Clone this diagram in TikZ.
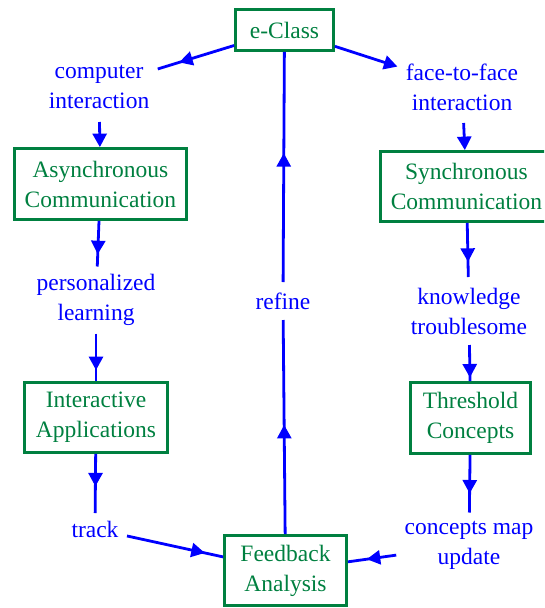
\documentclass[tikz,border=0pt]{standalone}
\usepackage{fontspec}
\setmainfont{Liberation Serif}
\usetikzlibrary{arrows.meta,decorations.markings}
\definecolor{cmgreen}{RGB}{0,128,64}
\definecolor{cmblue}{RGB}{0,0,255}
\begin{document}
\begin{tikzpicture}[x=1pt,y=-1pt,
  every node/.style={font=\fontsize{23.5}{30}\selectfont, align=center},
  cbox/.style={draw=cmgreen, line width=2.8pt, text=cmgreen, inner sep=0pt},
  lbl/.style={text=cmblue, inner xsep=8.5pt, inner ysep=0pt, outer sep=0pt},
  conn/.style={color=cmblue, line width=2.8pt},
  midarr/.style={postaction={decorate, decoration={markings,
      mark=at position #1 with {\arrow{Triangle[length=13.5pt,width=14pt]}}}}},
  endarr/.style={-{Triangle[length=13.5pt,width=14pt]}}]
\useasboundingbox (0,0) rectangle (544,608);
\clip (0,0) rectangle (544,608);
% concept boxes
\node[cbox, minimum width=98pt,  minimum height=41pt] (eclass) at (284.5,30)  {e-Class};
\node[cbox, minimum width=172pt, minimum height=71pt] (async)  at (100.4,184) {Asynchronous\\Communication};
\node[cbox, minimum width=172pt, minimum height=70pt] (sync)   at (466.5,186.5) {Synchronous\\Communication};
\node[cbox, minimum width=143pt, minimum height=70pt] (inter)  at (96,417.5)  {Interactive\\Applications};
\node[cbox, minimum width=120pt, minimum height=71pt] (thresh) at (470.5,418) {Threshold\\Concepts};
\node[cbox, minimum width=122pt, minimum height=70pt] (feed)   at (285.5,570.5) {Feedback\\Analysis};
% linking phrases
\node[lbl, minimum height=70pt] (cint)   at (99,87)    {computer\\interaction};
\node[lbl, minimum height=71pt] (f2f)    at (462,87.5) {face-to-face\\interaction};
\node[lbl, minimum height=67pt] (pers)   at (96,300)   {personalized\\learning};
\node[lbl, minimum height=38pt] (refine) at (283,301)  {refine};
\node[lbl, minimum height=68pt] (know)   at (469,311)  {knowledge\\troublesome};
\node[lbl, minimum height=32pt] (track)  at (95,529)   {track};
\node[lbl, minimum height=65pt] (cmap)   at (469,545) {concepts map\\update};
% connectors
\draw[conn, midarr=0.72] (eclass) -- (cint);
\draw[conn, endarr] (eclass) -- (f2f);
\draw[conn, endarr] (cint) -- (async);
\draw[conn, endarr] (f2f) -- (sync);
\draw[conn, midarr=0.73] (async) -- (pers);
\draw[conn, midarr=0.72] (sync) -- (know);
\draw[conn, midarr=0.77] (pers) -- (inter);
\draw[conn, midarr=0.9] (know) -- (thresh);
\draw[conn, midarr=0.55] (inter) -- (track);
\draw[conn, midarr=0.67] (thresh) -- (cmap);
\draw[conn, midarr=0.81] (track) -- (feed);
\draw[conn, midarr=0.61] (cmap) -- (feed);
\draw[conn, midarr=0.51] (feed) -- (refine);
\draw[conn, midarr=0.56] (refine) -- (eclass);
\end{tikzpicture}
\end{document}
